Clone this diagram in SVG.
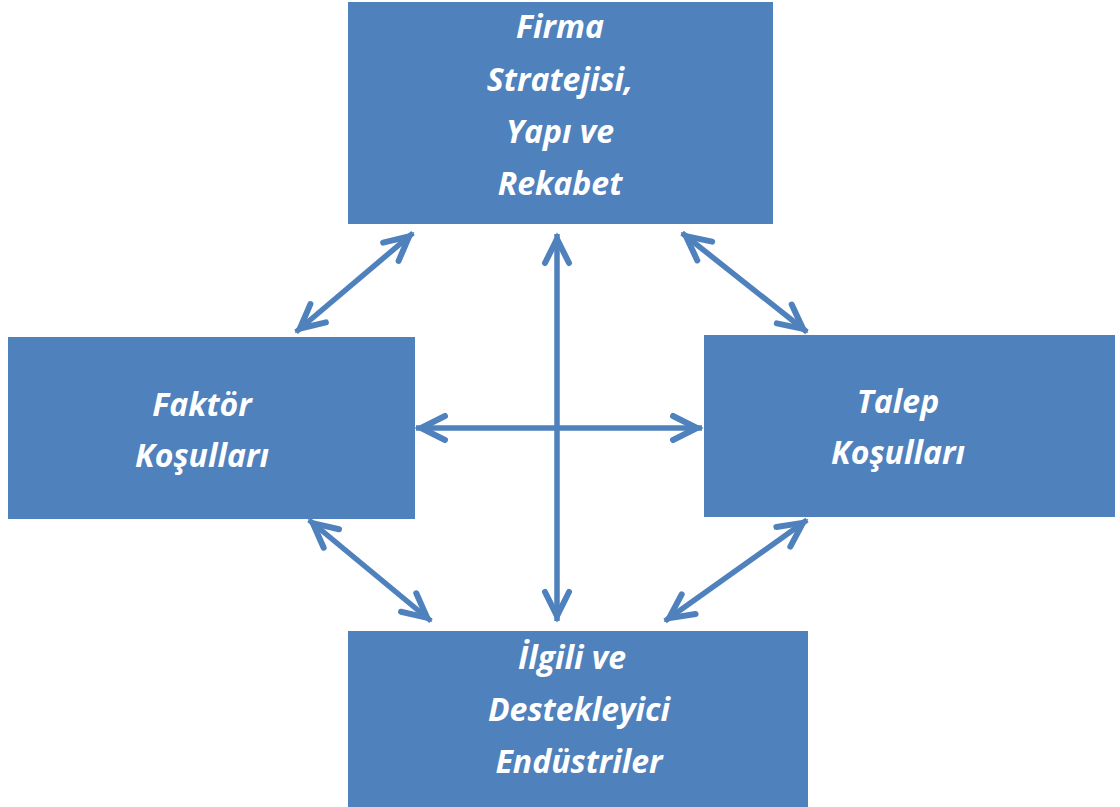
<svg xmlns="http://www.w3.org/2000/svg" width="1120" height="807" viewBox="0 0 1120 807">
<defs>
<style>
.box{fill:#4F81BD}
.lbl{font-family:"Open Sans","DejaVu Sans",sans-serif;font-weight:bold;font-style:italic;font-size:32px;fill:#FFFFFF;text-anchor:middle}
.con{stroke:#4F81BD;stroke-width:5.5;fill:none;marker-start:url(#ah);marker-end:url(#ah)}
</style>
<marker id="ah" markerUnits="userSpaceOnUse" viewBox="-32 -16 36 32" refX="0" refY="0" markerWidth="36" markerHeight="32" orient="auto-start-reverse" overflow="visible">
<path d="M-29,-12 L-5,0 L-29,12" fill="none" stroke="#4F81BD" stroke-width="6" stroke-linecap="round" stroke-linejoin="miter" stroke-miterlimit="10"/>
</marker>
</defs>
<rect width="1120" height="807" fill="#FFFFFF"/>
<g id="connectors">
<line class="con" x1="413" y1="233" x2="296" y2="332"/>
<line class="con" x1="682" y1="233" x2="807" y2="332"/>
<line class="con" x1="557" y1="234" x2="557" y2="621"/>
<line class="con" x1="416" y1="428" x2="702" y2="428"/>
<line class="con" x1="309" y1="520" x2="431" y2="621"/>
<line class="con" x1="807" y1="520" x2="665" y2="621"/>
</g>
<g id="firma">
<rect class="box" x="348" y="2" width="425" height="222"/>
<text class="lbl" x="560" y="38">Firma</text>
<text class="lbl" x="560" y="91">Stratejisi,</text>
<text class="lbl" x="560" y="143">Yapı ve</text>
<text class="lbl" x="560" y="195">Rekabet</text>
</g>
<g id="faktor">
<rect class="box" x="8" y="337" width="407" height="182"/>
<text class="lbl" x="202" y="416">Faktör</text>
<text class="lbl" x="202" y="467">Koşulları</text>
</g>
<g id="talep">
<rect class="box" x="704" y="335" width="411" height="182"/>
<text class="lbl" x="898" y="413">Talep</text>
<text class="lbl" x="898" y="464">Koşulları</text>
</g>
<g id="ilgili">
<rect class="box" x="348" y="631" width="460" height="176"/>
<text class="lbl" x="572" y="669">İlgili ve</text>
<text class="lbl" x="579" y="721">Destekleyici</text>
<text class="lbl" x="579" y="773">Endüstriler</text>
</g>
</svg>
